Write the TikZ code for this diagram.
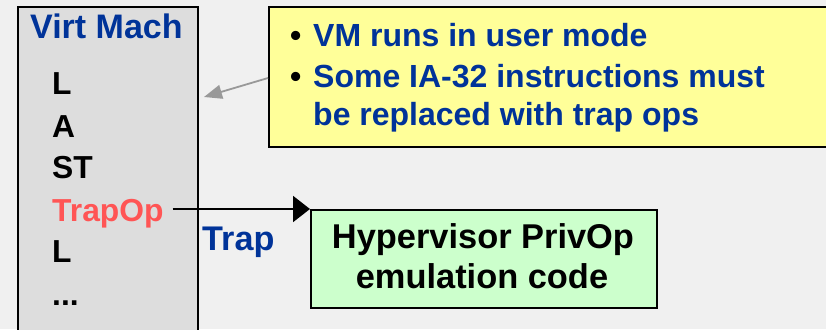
\documentclass[tikz,border=0pt]{standalone}
\usepackage{fontspec}
\setmainfont{Liberation Sans}
\usetikzlibrary{arrows.meta}
\definecolor{bg}{HTML}{F0F0F0}
\definecolor{vmgray}{HTML}{DDDDDD}
\definecolor{tblue}{HTML}{003399}
\definecolor{tred}{HTML}{FF5555}
\definecolor{yel}{HTML}{FFFF99}
\definecolor{grn}{HTML}{CCFFCC}
\definecolor{arrgray}{HTML}{999999}
\tikzset{
  lbl/.style={anchor=base west, inner sep=0pt, font=\fontsize{31.8}{36}\selectfont\bfseries},
  bigfont/.style={font=\fontsize{32}{39}\selectfont\bfseries},
  hvfont/.style={font=\fontsize{34.4}{40}\selectfont\bfseries},
  panel/.style={draw=black, line width=1.6pt},
}
\begin{document}
\begin{tikzpicture}[x=1pt,y=-1pt]
\useasboundingbox (0,0) rectangle (826,329);
\clip (0,0) rectangle (826,329);
\fill[bg] (0,0) rectangle (826,329);
% virtual machine box
\node[panel, fill=vmgray, minimum width=180pt, minimum height=340pt, anchor=north west, inner sep=0pt] (vm) at (17,6) {};
\node[lbl, font=\fontsize{34}{38}\selectfont\bfseries, text=tblue] (title) at (30,39) {Virt Mach};
\node[lbl] (l1) at (52,94) {L};
\node[lbl] (a1) at (52,137) {A};
\node[lbl] (st) at (52,178) {ST};
\node[lbl, text=tred] (trapop) at (52,221) {TrapOp};
\node[lbl] (l2) at (52,262) {L};
\node[lbl] (dots) at (52,305) {...};
% yellow note
\node[panel, fill=yel, minimum width=580pt, minimum height=140pt, anchor=north west, inner sep=0pt] (note) at (268,6) {};
\node[bigfont, anchor=base west, inner sep=0pt, text=black] (b1) at (290,47) {\textbullet};
\node[bigfont, anchor=base west, inner sep=0pt, text=tblue] (t1) at (313,47) {VM runs in user mode};
\node[bigfont, anchor=base west, inner sep=0pt, text=black] (b2) at (290,87) {\textbullet};
\node[bigfont, anchor=base west, inner sep=0pt, text=tblue] (t2) at (313,87) {Some IA-32 instructions must};
\node[bigfont, anchor=base west, inner sep=0pt, text=tblue] (t3) at (313,125) {be replaced with trap ops};
% green box
\node[panel, fill=grn, minimum width=346pt, minimum height=98pt, anchor=north west, inner sep=0pt] (hv) at (310,209) {};
\node[hvfont, anchor=base, inner sep=0pt] (h1) at (483,248) {Hypervisor PrivOp};
\node[hvfont, anchor=base, inner sep=0pt] (h2) at (482,288) {emulation code};
% arrows
\coordinate (vmpt) at (204,97);
\draw[arrgray, line width=1.8pt, -{Triangle[length=18pt,width=14pt]}] (note.west |- 0,78) -- (vmpt);
\draw[black, line width=2pt, -{Triangle[length=17pt,width=26pt]}] ([xshift=9pt]trapop.east |- 0,209) -- (hv.west |- 0,209);
\node[lbl, font=\fontsize{34.2}{38}\selectfont\bfseries, text=tblue] (trap) at (202,250) {Trap};
\end{tikzpicture}
\end{document}
